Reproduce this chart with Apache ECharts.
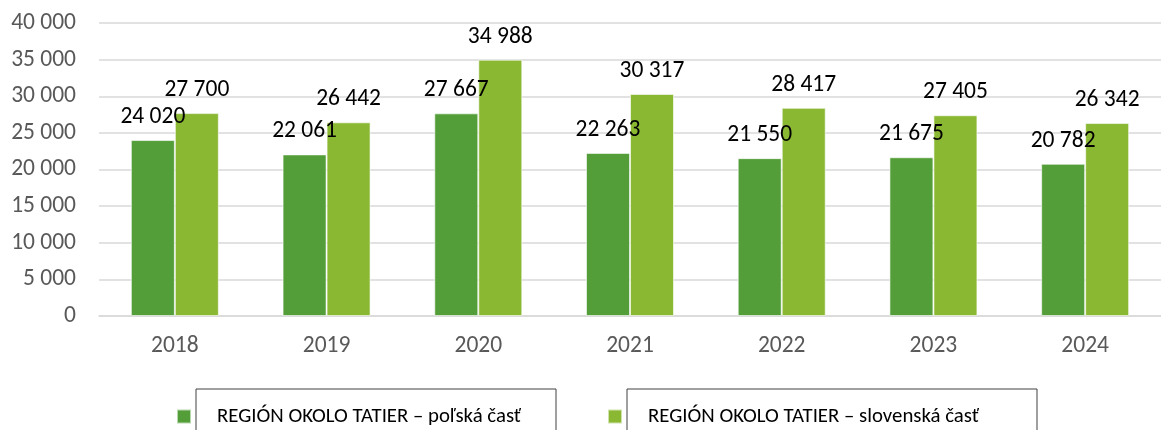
<!DOCTYPE html>
<html>
<head>
<meta charset="utf-8">
<script src="https://cdn.jsdelivr.net/npm/echarts@6/dist/echarts.min.js"></script>
<style>
  html, body { margin: 0; padding: 0; background: #fff; }
  #chart { width: 1161px; height: 430px; }
</style>
</head>
<body>
<div id="chart"></div>
<script>
// roky a hodnoty
var years = ['2018', '2019', '2020', '2021', '2022', '2023', '2024'];
var polskaCast = [24020, 22061, 27667, 22263, 21550, 21675, 20782];
var slovenskaCast = [27700, 26442, 34988, 30317, 28417, 27405, 26342];
var seriesNames = ['REGIÓN OKOLO TATIER – poľská časť', 'REGIÓN OKOLO TATIER – slovenská časť'];

var fontFam = "Carlito, 'Open Sans', sans-serif";

function fmt(v) {
    return String(v).replace(/\B(?=(\d{3})+(?!\d))/g, ' ');
}

var myChart = echarts.init(document.getElementById('chart'));

var labelStyle = {
    show: true,
    position: 'top',
    distance: 11,
    color: '#000',
    fontSize: 23.5,
    fontFamily: fontFam,
    formatter: function (p) { return fmt(p.value); }
};

var legendText = { fontSize: 20.8, fontFamily: fontFam, color: '#000', padding: [0, 0, 0, 21] };

var option = {
    animation: false,
    grid: {
        left: 99,
        right: 0,
        top: 23,
        bottom: 114
    },
    legend: [
        {
            data: [seriesNames[0]],
            left: 176,
            top: 406,
            padding: 0,
            itemWidth: 14,
            itemHeight: 14,
            icon: 'rect',
            textStyle: legendText
        },
        {
            data: [seriesNames[1]],
            left: 607,
            top: 406,
            padding: 0,
            itemWidth: 14,
            itemHeight: 14,
            icon: 'rect',
            textStyle: legendText
        }
    ],
    graphic: [
        { type: 'rect', shape: { x: 196, y: 389, width: 360, height: 50 }, style: { fill: null, stroke: '#404040', lineWidth: 1 } },
        { type: 'rect', shape: { x: 627, y: 389, width: 410, height: 50 }, style: { fill: null, stroke: '#404040', lineWidth: 1 } }
    ],
    xAxis: {
        type: 'category',
        data: years,
        axisTick: { show: false },
        axisLine: { lineStyle: { color: '#d9d9d9', width: 1.5 } },
        axisLabel: { color: '#595959', fontSize: 23.5, fontFamily: fontFam, margin: 18 }
    },
    yAxis: {
        type: 'value',
        min: 0,
        max: 40000,
        interval: 5000,
        axisLine: { show: false },
        axisTick: { show: false },
        splitLine: { lineStyle: { color: '#d9d9d9', width: 1.5 } },
        axisLabel: {
            color: '#595959',
            fontSize: 23.5,
            fontFamily: fontFam,
            margin: 23,
            formatter: function (v) { return fmt(v); }
        }
    },
    series: [
        {
            name: seriesNames[0],
            type: 'bar',
            data: polskaCast,
            barWidth: 44,
            barGap: '0%',
            itemStyle: { color: '#549E39', borderColor: 'rgba(255,255,255,0.6)', borderWidth: 1 },
            label: labelStyle
        },
        {
            name: seriesNames[1],
            type: 'bar',
            data: slovenskaCast,
            barWidth: 44,
            barGap: '0%',
            itemStyle: { color: '#8AB833', borderColor: 'rgba(255,255,255,0.6)', borderWidth: 1 },
            label: labelStyle
        }
    ]
};

myChart.setOption(option);
</script>
</body>
</html>
